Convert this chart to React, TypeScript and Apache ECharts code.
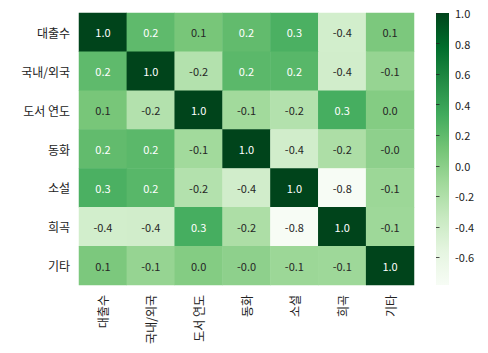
import React, { useEffect, useRef } from "react";
import * as echarts from "echarts";

const labels = ["대출수", "국내/외국", "도서 연도", "동화", "소설", "희곡", "기타"];

const rowLoans = [1.0, 0.2, 0.09, 0.19, 0.29, -0.42, 0.07];
const rowOrigin = [0.2, 1.0, -0.22, 0.22, 0.23, -0.41, -0.06];
const rowYear = [0.09, -0.22, 1.0, -0.12, -0.22, 0.31, 0.03];
const rowFairy = [0.19, 0.22, -0.12, 1.0, -0.41, -0.18, -0.02];
const rowNovel = [0.29, 0.23, -0.22, -0.41, 1.0, -0.78, -0.09];
const rowDrama = [-0.42, -0.41, 0.31, -0.18, -0.78, 1.0, -0.1];
const rowOther = [0.07, -0.06, 0.03, -0.02, -0.09, -0.1, 1.0];

const matrix = [rowLoans, rowOrigin, rowYear, rowFairy, rowNovel, rowDrama, rowOther];

const colorbarTicks = [-0.6, -0.4, -0.2, 0.0, 0.2, 0.4, 0.6, 0.8, 1.0];

const greens = [
  "#f7fcf5",
  "#e5f5e0",
  "#c7e9c0",
  "#a1d99b",
  "#74c476",
  "#41ab5d",
  "#238b45",
  "#006d2c",
  "#00441b",
];

const hexToRgb = (h: string) => [
  parseInt(h.slice(1, 3), 16),
  parseInt(h.slice(3, 5), 16),
  parseInt(h.slice(5, 7), 16),
];

const colorAt = (t: number) => {
  const n = greens.length - 1;
  const p = Math.max(0, Math.min(1, t)) * n;
  const i = Math.min(n - 1, Math.floor(p));
  const f = p - i;
  const a = hexToRgb(greens[i]);
  const b = hexToRgb(greens[i + 1]);
  return a.map((v, k) => v + (b[k] - v) * f);
};

const luminance = (rgb: number[]) => {
  const lin = rgb.map((c) => {
    const s = c / 255;
    return s <= 0.03928 ? s / 12.92 : Math.pow((s + 0.055) / 1.055, 2.4);
  });
  return 0.2126 * lin[0] + 0.7152 * lin[1] + 0.0722 * lin[2];
};

export default function App() {
  const ref = useRef<HTMLDivElement>(null);

  useEffect(() => {
    if (!ref.current) return;
    const chart = echarts.init(ref.current, undefined, { renderer: "svg" });

    const all = matrix.flat();
    const vmin = Math.min(...all);
    const vmax = Math.max(...all);

    const data: any[] = [];
    matrix.forEach((row, r) => {
      row.forEach((v, c) => {
        const rgb = colorAt((v - vmin) / (vmax - vmin));
        const textColor = luminance(rgb) > 0.408 ? "#262626" : "#ffffff";
        data.push({ value: [c, r, v], label: { color: textColor } });
      });
    });

    const font = "'Noto Sans CJK KR', 'Noto Sans', sans-serif";

    chart.setOption({
      animation: false,
      textStyle: { fontFamily: font },
      grid: [
        { left: 79, top: 13, width: 335, height: 272, containLabel: false },
        {
          left: 436,
          top: 13,
          width: 13,
          height: 272,
          show: true,
          borderWidth: 0,
          backgroundColor: new echarts.graphic.LinearGradient(
            0,
            0,
            0,
            1,
            greens
              .slice()
              .reverse()
              .map((c, i) => ({ offset: i / (greens.length - 1), color: c }))
          ),
        },
      ],
      xAxis: [
        {
          type: "category",
          gridIndex: 0,
          data: labels,
          axisLine: { show: false },
          axisTick: { alignWithLabel: true, length: 3.5, lineStyle: { color: "#222", width: 0.8 } },
          axisLabel: { rotate: 90, interval: 0, fontSize: 12, color: "#222", margin: 10, fontFamily: font },
          splitLine: { show: false },
        },
        { type: "value", gridIndex: 1, show: false, min: 0, max: 1 },
      ],
      yAxis: [
        {
          type: "category",
          gridIndex: 0,
          data: labels,
          inverse: true,
          axisLine: { show: false },
          axisTick: { alignWithLabel: true, length: 3.5, lineStyle: { color: "#222", width: 0.8 } },
          axisLabel: { interval: 0, fontSize: 12, color: "#222", margin: 9, fontFamily: font },
          splitLine: { show: false },
        },
        {
          type: "value",
          gridIndex: 1,
          position: "right",
          min: vmin,
          max: vmax,
          axisLine: { show: false },
          splitLine: { show: false },
          axisTick: {
            show: true,
            length: 3.5,
            customValues: colorbarTicks,
            lineStyle: { color: "#222", width: 0.8 },
          },
          axisLabel: {
            customValues: colorbarTicks,
            fontSize: 11,
            color: "#222",
            margin: 6,
            fontFamily: font,
            formatter: (v: number) => v.toFixed(1),
          },
        },
      ],
      visualMap: {
        type: "continuous",
        show: false,
        min: vmin,
        max: vmax,
        seriesIndex: 0,
        dimension: 2,
        inRange: { color: greens },
      },
      series: [
        {
          type: "heatmap",
          xAxisIndex: 0,
          yAxisIndex: 0,
          data,
          itemStyle: { borderWidth: 0 },
          label: {
            show: true,
            fontSize: 11,
            fontFamily: font,
            formatter: (p: any) => (p.value[2] as number).toFixed(1),
          },
        },
      ],
    });

    return () => chart.dispose();
  }, []);

  return (
    <div
      ref={ref}
      style={{ position: "absolute", left: 0, top: 0, width: 488, height: 353, background: "#fff" }}
    />
  );
}
